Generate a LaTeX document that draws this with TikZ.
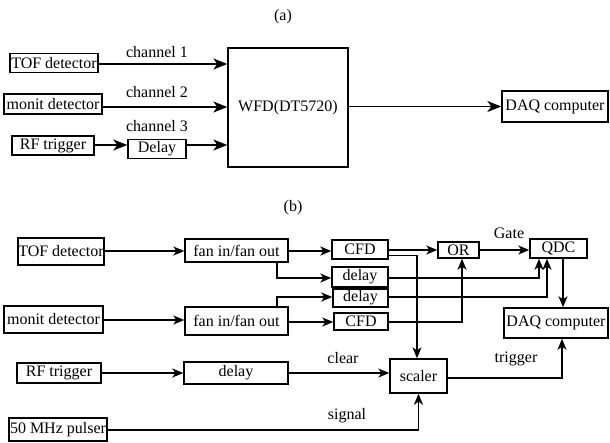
\documentclass[tikz,border=0pt]{standalone}
\usepackage{fontspec}
\setmainfont{Liberation Serif}
\usetikzlibrary{arrows.meta}
\begin{document}
\begin{tikzpicture}[x=1pt,y=-1pt,
  every node/.style={font=\fontsize{16}{18}\selectfont},
  blk/.style={draw,line width=1.4pt,inner sep=0pt,align=center},
  lbl/.style={inner sep=0pt},
  arr/.style={line width=1.4pt,-{Stealth[length=14pt,width=11pt,inset=4pt]}},
  arrb/.style={line width=1.4pt,-{Stealth[length=11pt,width=9pt,inset=3pt]}},
  ln/.style={line width=1.4pt}]
\useasboundingbox (0,0) rectangle (610,442);
% ---------- (a) ----------
\node[lbl] (ta) at (283,17) {(a)};
\node[blk,minimum width=88pt,minimum height=19pt] (tofA) at (54,63) {TOF detector};
\node[blk,minimum width=98pt,minimum height=20pt] (monA) at (53,104) {monit detector};
\node[blk,minimum width=82pt,minimum height=19pt] (rfA) at (53,145.5) {RF trigger};
\node[blk,minimum width=58pt,minimum height=19pt] (delA) at (157,149) {Delay};
\node[blk,minimum width=120pt,minimum height=119pt] (wfd) at (288,107.5) {WFD(DT5720)};
\node[blk,minimum width=106pt,minimum height=31pt] (daqA) at (555,106.5) {DAQ computer};
\node[lbl] (c1) at (157,52) {channel 1};
\node[lbl] (c2) at (157,92) {channel 2};
\node[lbl] (c3) at (157,126) {channel 3};
\coordinate (ya1) at (0,64);
\coordinate (ya2) at (0,107);
\coordinate (ya3) at (0,145);
\draw[arr] (tofA.east |- ya1) -- (wfd.west |- ya1);
\draw[arr] (monA.east |- ya2) -- (wfd.west |- ya2);
\draw[arr] (rfA.east |- ya3) -- (delA.west |- ya3);
\draw[arr] (delA.east |- ya3) -- (wfd.west |- ya3);
\draw[arr] (wfd.east |- daqA.west) -- (daqA.west);
% ---------- (b) ----------
\node[lbl] (tb) at (293,208) {(b)};
\node[blk,minimum width=86pt,minimum height=27pt] (tofB) at (61,251.5) {TOF detector};
\node[blk,minimum width=99pt,minimum height=27pt] (monB) at (53.5,319.5) {monit detector};
\node[blk,minimum width=84pt,minimum height=20pt] (rfB) at (59,373) {RF trigger};
\node[blk,minimum width=98pt,minimum height=23pt] (pul) at (58,429.5) {50 MHz pulser};
\node[blk,minimum width=103pt,minimum height=23pt] (fan1) at (236.5,250.5) {fan in/fan out};
\node[blk,minimum width=103pt,minimum height=28pt] (fan2) at (236.5,321) {fan in/fan out};
\node[blk,minimum width=104pt,minimum height=22pt] (delR) at (236,373) {delay};
\node[blk,minimum width=56pt,minimum height=19pt] (cfd1) at (360,249.5) {CFD};
\node[blk,minimum width=56pt,minimum height=20pt] (dly1) at (360,277) {delay};
\node[blk,minimum width=55pt,minimum height=18pt] (dly2) at (360.5,298) {delay};
\node[blk,minimum width=54pt,minimum height=17pt] (cfd2) at (361,321.5) {CFD};
\node[blk,minimum width=41pt,minimum height=16pt] (orN) at (458.5,250) {OR};
\node[blk,minimum width=57pt,minimum height=19pt] (qdc) at (558.5,248.5) {QDC};
\node[blk,minimum width=104pt,minimum height=30pt] (daqB) at (556,323) {DAQ computer};
\node[blk,minimum width=57pt,minimum height=34pt] (sca) at (418.5,376) {scaler};
\node[lbl] (gate) at (509,233) {Gate};
\node[lbl] (clr) at (343,358) {clear};
\node[lbl] (sig) at (347,416) {signal};
\node[lbl] (trg) at (516,359) {trigger};
\coordinate (y1) at (0,251);
\coordinate (y2) at (0,320);
\coordinate (xf) at (277,0);
\coordinate (yd1) at (0,278);
\coordinate (yd2) at (0,297);
\coordinate (yc2) at (0,322);
\coordinate (yc1) at (0,255.5);
\coordinate (xs) at (417,0);
\coordinate (xo) at (462,0);
\coordinate (xq1) at (539,0);
\coordinate (xq2) at (547,0);
\coordinate (xq3) at (563,0);
\coordinate (yp) at (0,430);
\coordinate (ysc) at (0,378);
\coordinate (xt) at (562,0);
\draw[arrb] (tofB.east |- y1) -- (fan1.west |- y1);
\draw[arrb] (monB.east |- y2) -- (fan2.west |- y2);
\draw[arrb] (rfB.east) -- (delR.west);
\draw[arrb] (fan1.east |- y1) -- (cfd1.west |- y1);
\draw[arrb] (fan1.south -| xf) |- (dly1.west |- yd1);
\draw[arrb] (fan2.north -| xf) |- (dly2.west |- yd2);
\draw[arrb] (fan2.east |- yc2) -- (cfd2.west |- yc2);
\draw[arrb] (cfd1.east |- orN.west) -- (orN.west);
\draw[arrb] (cfd1.east |- yc1) -| (sca.north -| xs);
\draw[arrb] (cfd2.east |- yc2) -| (orN.south -| xo);
\draw[arrb] (orN.east) -- (qdc.west |- orN.east);
\draw[arrb] (dly1.east |- yd1) -| (qdc.south -| xq1);
\draw[arrb] (dly2.east |- yd2) -| (qdc.south -| xq2);
\draw[arrb] (qdc.south -| xq3) -- (daqB.north -| xq3);
\draw[arrb] (delR.east) -- (sca.west |- delR.east);
\draw[arrb] (pul.east |- yp) -| (sca.south);
\draw[arrb] (sca.east |- ysc) -| (daqB.south -| xt);
\end{tikzpicture}
\end{document}
